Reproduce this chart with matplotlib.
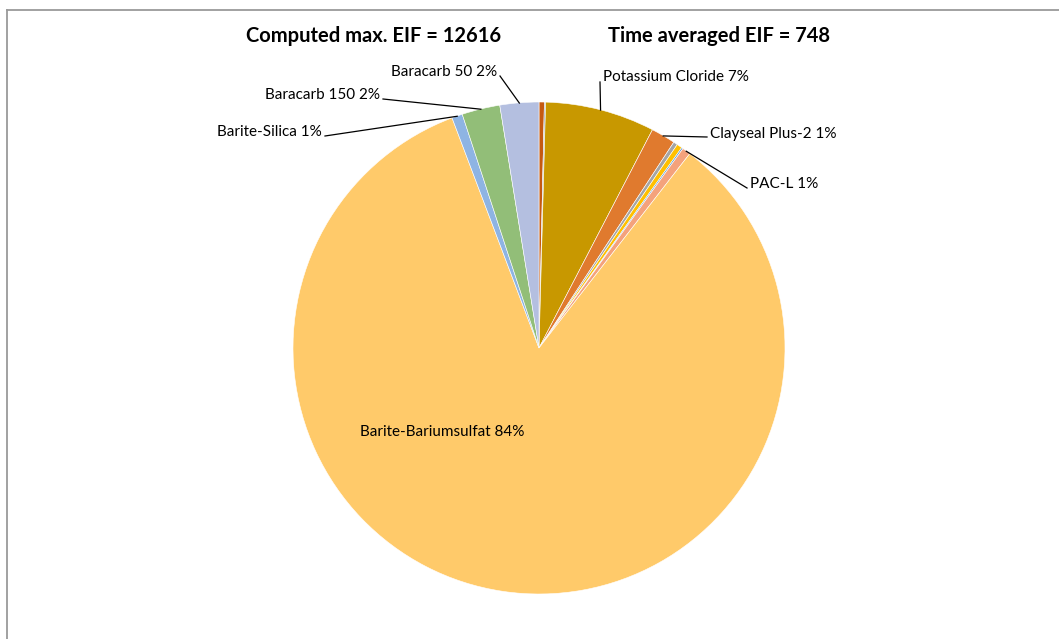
import numpy as np
import matplotlib.pyplot as plt

plt.rcParams['font.family'] = ['Lato', 'DejaVu Sans']

# slices clockwise from 12 o'clock
values = [0.35, 0.08, 7.2, 1.6, 0.27, 0.35, 0.1, 0.55, 83.75, 0.7, 2.5, 2.55]
labels = ["", "", "Potassium Cloride 7%", "Clayseal Plus-2 1%", "", "", "",
          "PAC-L 1%", "Barite-Bariumsulfat 84%", "Barite-Silica 1%",
          "Baracarb 150 2%", "Baracarb 50 2%"]
colors = ["#C55A11", "#8497B0", "#C89800", "#E07A2E", "#A5A5A5", "#FFC000",
          "#5B9BD5", "#F4A27C", "#FFCA6A", "#8EB4E3", "#92BE78", "#B4BFE0"]

title_left = "Computed max. EIF = 12616"
title_right = "Time averaged EIF = 748"

W, H = 1059, 639
fig = plt.figure(figsize=(W / 100, H / 100), dpi=100)

# pie centre / radius in pixels
cx, cy, r = 539, 348, 246
ax = fig.add_axes([(cx - r) / W, (H - cy - r) / H, 2 * r / W, 2 * r / H])
wedges, _ = ax.pie(values, colors=colors, startangle=90, counterclock=False,
                   radius=1, wedgeprops=dict(edgecolor='white', linewidth=0.4))
ax.set_xlim(-1, 1)
ax.set_ylim(-1, 1)
ax.set_aspect('equal')
ax.axis('off')


def px(x, y):
    # pixel coords -> data coords of the pie axes
    return ((x - cx) / r, (cy - y) / r)


# label text anchor (pixels), alignment, elbow point (pixels)
label_pos = {
    "Potassium Cloride 7%": ((603, 77), 'left', (600, 82)),
    "Clayseal Plus-2 1%": ((710, 134), 'left', (707, 137)),
    "PAC-L 1%": ((750, 184), 'left', (747, 188)),
    "Barite-Silica 1%": ((322, 132), 'right', (325, 136)),
    "Baracarb 150 2%": ((380, 95), 'right', (383, 99)),
    "Baracarb 50 2%": ((497, 72), 'right', (500, 76)),
}

for w, lab in zip(wedges, labels):
    if not lab:
        continue
    ang = np.deg2rad((w.theta1 + w.theta2) / 2)
    ex, ey = np.cos(ang), np.sin(ang)
    if lab in label_pos:
        (tx, ty), ha, (bx, by) = label_pos[lab]
        ax.text(*px(tx, ty), lab, ha=ha, va='center', fontsize=11)
        kx, ky = px(bx, by)
        ax.plot([kx, ex * 0.999], [ky, ey * 0.999], color='black', lw=0.9,
                clip_on=False)
    else:
        ax.text(*px(442, 432), lab, ha='center', va='center', fontsize=11)

fig.text(374 / W, 1 - 36 / H, title_left, ha='center', va='center',
         fontsize=14.5, fontweight='bold')
fig.text(719 / W, 1 - 36 / H, title_right, ha='center', va='center',
         fontsize=14.5, fontweight='bold')

# chart frame (top and left edges visible)
fig.add_artist(plt.Line2D([7 / W, 1], [1 - 10 / H, 1 - 10 / H], color='#9a9a9a', lw=1.3))
fig.add_artist(plt.Line2D([7 / W, 7 / W], [0, 1 - 10 / H], color='#9a9a9a', lw=1.3))

fig.savefig("out.png", dpi=100)
